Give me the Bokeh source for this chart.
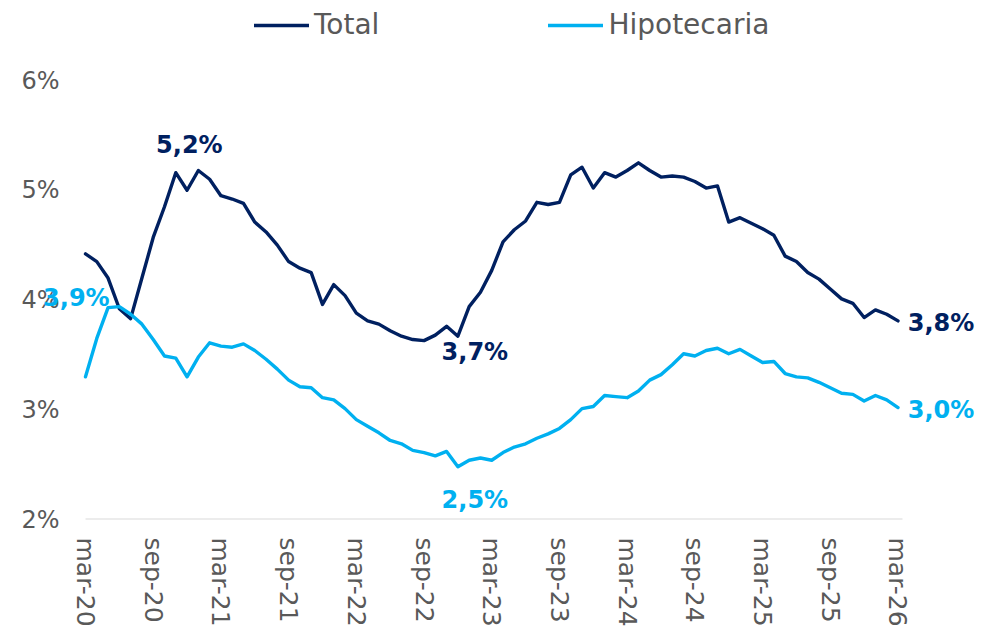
from bokeh.plotting import figure
from bokeh.models import (ColumnDataSource, FixedTicker, Range1d, Legend, LegendItem, Label)
from bokeh.embed import file_html
from bokeh.resources import INLINE

# ---- data (monthly, mar-20 .. mar-26) ----
total = [4.42, 4.35, 4.20, 3.92, 3.83, 4.20, 4.57, 4.85, 5.16, 5.00,
         5.18, 5.10, 4.95, 4.92, 4.88, 4.71, 4.62, 4.50, 4.35, 4.29,
         4.25, 3.96, 4.14, 4.04, 3.88, 3.81, 3.78, 3.72, 3.67, 3.64,
         3.63, 3.68, 3.76, 3.67, 3.94, 4.07, 4.27, 4.53, 4.64, 4.72,
         4.89, 4.87, 4.89, 5.14, 5.21, 5.02, 5.16, 5.12, 5.18, 5.25,
         5.18, 5.12, 5.13, 5.12, 5.08, 5.02, 5.04, 4.71, 4.75, 4.70,
         4.65, 4.59, 4.40, 4.35, 4.25, 4.19, 4.10, 4.01, 3.97, 3.84,
         3.91, 3.87, 3.81]
hipotecaria = [3.30, 3.65, 3.93, 3.94, 3.87, 3.78, 3.64, 3.49, 3.47, 3.30,
               3.48, 3.61, 3.58, 3.57, 3.60, 3.54, 3.46, 3.37, 3.27, 3.21,
               3.20, 3.11, 3.09, 3.01, 2.91, 2.85, 2.79, 2.72, 2.69, 2.63,
               2.61, 2.58, 2.62, 2.48, 2.54, 2.56, 2.54, 2.61, 2.66, 2.69,
               2.74, 2.78, 2.83, 2.91, 3.01, 3.03, 3.13, 3.12, 3.11, 3.17,
               3.27, 3.32, 3.41, 3.51, 3.49, 3.54, 3.56, 3.51, 3.55, 3.49,
               3.43, 3.44, 3.33, 3.30, 3.29, 3.25, 3.20, 3.15, 3.14, 3.08,
               3.13, 3.09, 3.02]
month_index = list(range(len(total)))

x_ticks = [0, 6, 12, 18, 24, 30, 36, 42, 48, 54, 60, 66, 72]
x_tick_labels = ["mar-20", "sep-20", "mar-21", "sep-21", "mar-22", "sep-22",
                 "mar-23", "sep-23", "mar-24", "sep-24", "mar-25", "sep-25", "mar-26"]
y_ticks = [2, 3, 4, 5, 6]
y_tick_labels = ["2%", "3%", "4%", "5%", "6%"]

series_names = ["Total", "Hipotecaria"]

# data labels: which series, which month, text
label_series = ["Total", "Total", "Total", "Hipotecaria", "Hipotecaria", "Hipotecaria"]
label_month = [10, 33, 72, 3, 33, 72]
label_text = ["5,2%", "3,7%", "3,8%", "3,9%", "2,5%", "3,0%"]

# ---- styles / layout ----
NAVY = "#002060"
LIGHT = "#00B0F0"
GRAY = "#595959"
AXIS_GRAY = "#D9D9D9"
FONT = "DejaVu Sans"
colors = {"Total": NAVY, "Hipotecaria": LIGHT}
label_dx = [-9, 17, 43, -43, 17, 43]
label_dy = [25, -16, -2, 9, -33, -2]   # screen pixels, positive = up

AXIS_END = 72.4            # end of the visible category axis (months)
PX_X = 817 / AXIS_END      # pixels per month
PX_Y = 109.75              # pixels per percentage point
PAD_L, PAD_R, PAD_T = 45, 83, 80   # extra room inside the frame for the labels/legend

p = figure(width=997, height=633, output_backend="svg", toolbar_location=None,
           x_range=Range1d(-PAD_L / PX_X, AXIS_END + PAD_R / PX_X),
           y_range=Range1d(y_ticks[0], y_ticks[-1] + PAD_T / PX_Y),
           min_border_left=40, min_border_right=12, min_border_top=0,
           min_border_bottom=114)
p.outline_line_color = None
p.grid.visible = False
p.background_fill_color = "white"
p.border_fill_color = "white"

# category axis baseline
p.segment(x0=[x_ticks[0]], y0=[y_ticks[0]], x1=[AXIS_END], y1=[y_ticks[0]],
          line_color=AXIS_GRAY, line_width=2)

src = ColumnDataSource(dict(x=month_index, total=total, hip=hipotecaria))
r_tot = p.line("x", "total", source=src, line_color=NAVY, line_width=3.4,
               line_join="round", line_cap="round")
r_hip = p.line("x", "hip", source=src, line_color=LIGHT, line_width=3.4,
               line_join="round", line_cap="round")

# data labels
series_vals = {"Total": total, "Hipotecaria": hipotecaria}
for s, m, t, dx, dy in zip(label_series, label_month, label_text, label_dx, label_dy):
    p.add_layout(Label(x=m, y=series_vals[s][m], text=t, x_offset=dx, y_offset=dy,
                       text_align="center", text_baseline="middle",
                       text_color=colors[s], text_font=FONT,
                       text_font_style="bold", text_font_size="24px"))

# axes
xa = p.xaxis[0]
xa.ticker = FixedTicker(ticks=x_ticks)
xa.major_label_overrides = {t: l for t, l in zip(x_ticks, x_tick_labels)}
xa.major_label_orientation = "vertical"
xa.axis_line_color = None
xa.major_tick_line_color = None
xa.minor_tick_line_color = None
xa.major_tick_out = 0
xa.major_label_standoff = 18
xa.major_label_text_font = FONT
xa.major_label_text_font_size = "25px"
xa.major_label_text_color = GRAY

ya = p.yaxis[0]
ya.ticker = FixedTicker(ticks=y_ticks)
ya.major_label_overrides = {t: l for t, l in zip(y_ticks, y_tick_labels)}
ya.axis_line_color = None
ya.major_tick_line_color = None
ya.minor_tick_line_color = None
ya.major_tick_out = 0
ya.major_tick_in = 0
ya.major_label_standoff = -19
ya.major_label_text_font = FONT
ya.major_label_text_font_size = "24px"
ya.major_label_text_color = GRAY

legend = Legend(items=[LegendItem(label=series_names[0], renderers=[r_tot]),
                       LegendItem(label=series_names[1], renderers=[r_hip])],
                orientation="horizontal", location=(214, 478),
                glyph_width=55, glyph_height=20, label_standoff=5, spacing=169,
                padding=0, margin=0, border_line_color=None,
                background_fill_alpha=0,
                label_text_font=FONT, label_text_font_size="28px",
                label_text_color=GRAY)
p.add_layout(legend, "center")

open("out.html", "w").write(file_html(p, INLINE))
